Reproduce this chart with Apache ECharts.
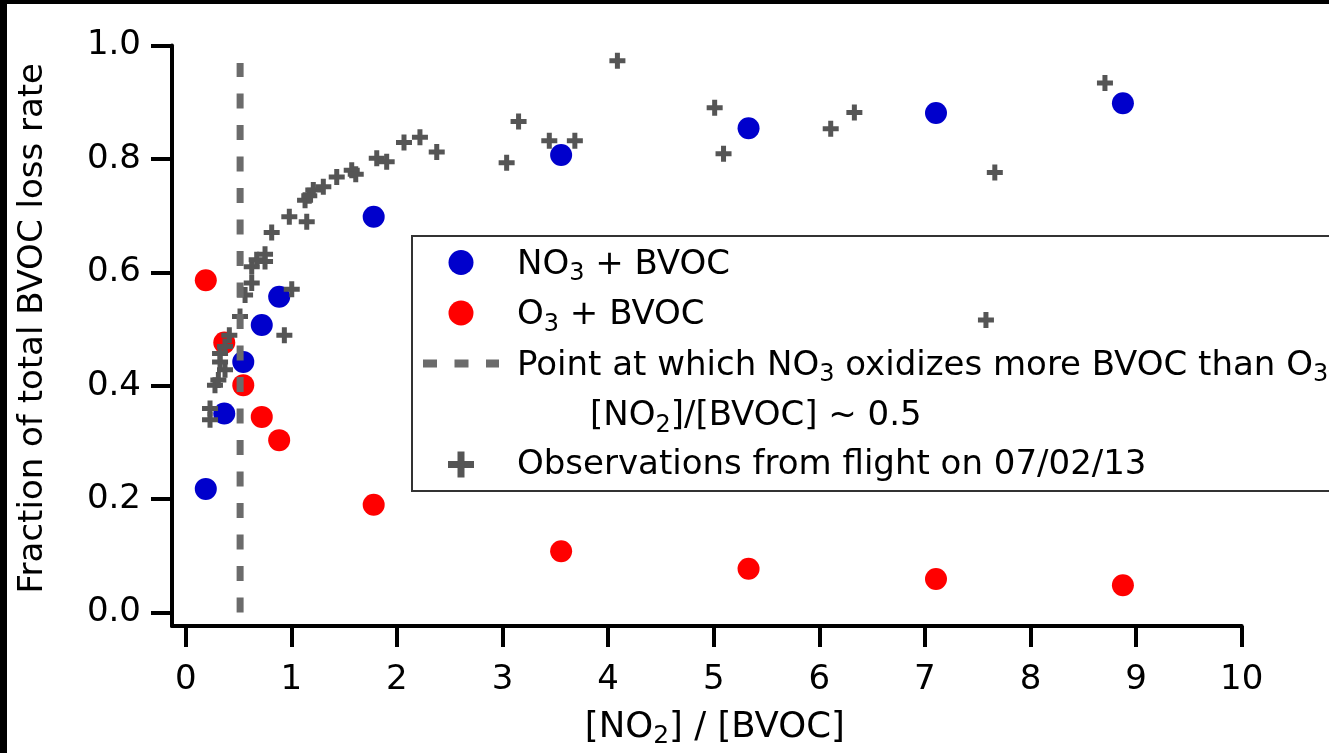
<!DOCTYPE html>
<html>
<head>
<meta charset="utf-8">
<title>Fraction of total BVOC loss rate</title>
<script src="https://cdn.jsdelivr.net/npm/echarts@6.0.0/dist/echarts.min.js"></script>
<style>
  html, body { margin: 0; padding: 0; background: #fff; }
  #chart { width: 1329px; height: 753px; }
</style>
</head>
<body>
<div id="chart"></div>
<script>
// [NO2]/[BVOC] ratios of the model runs (shared by both oxidant series)
var ratio = [0.19, 0.365, 0.545, 0.72, 0.885, 1.78, 3.555, 5.33, 7.105, 8.875];
var no3Frac = [0.218, 0.351, 0.442, 0.507, 0.557, 0.698, 0.807, 0.854, 0.881, 0.898];
var o3Frac = [0.586, 0.476, 0.401, 0.345, 0.304, 0.190, 0.108, 0.077, 0.059, 0.048];

// observations from the 07/02/13 flight
var obsX = [0.23, 0.23, 0.277, 0.309, 0.372, 0.325, 0.325, 0.372, 0.413, 0.514,
  0.562, 0.625, 0.625, 0.672, 0.751, 0.751, 0.814, 0.934, 1.004, 0.981,
  1.146, 1.13, 1.17, 1.208, 1.303, 1.43, 1.572, 1.61, 1.809, 1.903,
  2.067, 2.218, 2.377, 3.039, 3.152, 3.443, 3.685, 4.088, 5.009, 5.093,
  6.108, 6.332, 7.578, 7.662, 8.705];
var obsY = [0.340, 0.360, 0.401, 0.410, 0.428, 0.442, 0.457, 0.469, 0.489, 0.522,
  0.560, 0.581, 0.610, 0.622, 0.619, 0.632, 0.670, 0.489, 0.570, 0.698,
  0.689, 0.727, 0.735, 0.745, 0.751, 0.768, 0.780, 0.773, 0.801, 0.795,
  0.829, 0.838, 0.812, 0.793, 0.866, 0.832, 0.832, 0.973, 0.890, 0.809,
  0.853, 0.882, 0.516, 0.776, 0.934];

// crossover point, drawn as a vertical dashed line
var crossX = [0.515, 0.515];
var crossY = [0, 0.969];

var xTicks = [0, 1, 2, 3, 4, 5, 6, 7, 8, 9, 10];
var yTicks = [0, 0.2, 0.4, 0.6, 0.8, 1.0];

var FONT = "DejaVu Sans";
var FS = 34;
var BLUE = "#0000cc";
var RED = "#ff0000";
var DASH = "#6b6b6b";
var PLUS = "#555555";
var PLUS_PATH = "path://M5.5,0H10.5V5.5H16V10.5H10.5V16H5.5V10.5H0V5.5H5.5Z";

function pairs(xs, ys) {
  return xs.map(function (x, i) { return [x, ys[i]]; });
}

// subscripts: small digits pushed to the bottom of a tall line box
var subRich = {
  sub: { fontSize: 24, fontFamily: FONT, lineHeight: 16, verticalAlign: "bottom", color: "#000" }
};

function legendText(x, y, text) {
  return {
    type: "text",
    x: x,
    y: y,
    style: {
      text: text,
      fontSize: FS,
      fontFamily: FONT,
      lineHeight: 42,
      fill: "#000",
      verticalAlign: "middle",
      rich: subRich
    }
  };
}

var myChart = echarts.init(document.getElementById("chart"), null, { renderer: "canvas" });

var option = {
  backgroundColor: "#fff",
  animation: false,
  grid: {
    left: 172,
    right: 87.3,
    top: 45.5,
    bottom: 127,
    outerBoundsMode: "none"
  },
  xAxis: {
    type: "value",
    min: -0.13,
    max: 10,
    splitLine: { show: false },
    axisLine: { show: true, onZero: false, lineStyle: { color: "#000", width: 4 } },
    axisTick: { show: true, length: 21, customValues: xTicks, lineStyle: { color: "#000", width: 4 } },
    axisLabel: { customValues: xTicks, margin: 37, color: "#000", fontSize: FS, fontFamily: FONT },
    name: "[NO{sub|2}] / [BVOC]",
    nameLocation: "middle",
    nameGap: 80,
    nameTextStyle: {
      color: "#000", fontSize: 35.5, fontFamily: FONT, lineHeight: 43,
      padding: [0, 0, 0, 16],
      rich: {
        sub: { fontSize: 25, fontFamily: FONT, lineHeight: 16, verticalAlign: "bottom", color: "#000" }
      }
    }
  },
  yAxis: {
    type: "value",
    min: -0.0238,
    max: 1.0,
    splitLine: { show: false },
    axisLine: { show: true, onZero: false, lineStyle: { color: "#000", width: 4 } },
    axisTick: { show: true, length: 21, customValues: yTicks, lineStyle: { color: "#000", width: 4 } },
    axisLabel: {
      customValues: yTicks, margin: 31, color: "#000", fontSize: FS, fontFamily: FONT,
      formatter: function (v) { return v.toFixed(1); }
    },
    name: "Fraction of total BVOC loss rate",
    nameLocation: "middle",
    nameRotate: 90,
    nameGap: 121,
    nameTextStyle: {
      color: "#000", fontSize: FS, fontFamily: FONT, lineHeight: 36,
      padding: [0, 0, 0, 15]
    }
  },
  series: [
    {
      name: "NO3 + BVOC",
      type: "scatter",
      symbol: "circle",
      symbolSize: 22,
      itemStyle: { color: BLUE, opacity: 1 },
      data: pairs(ratio, no3Frac)
    },
    {
      name: "O3 + BVOC",
      type: "scatter",
      symbol: "circle",
      symbolSize: 22,
      itemStyle: { color: RED, opacity: 1 },
      data: pairs(ratio, o3Frac)
    },
    {
      name: "crossover",
      type: "line",
      symbol: "none",
      showSymbol: false,
      lineStyle: { color: DASH, width: 7, type: [15, 16.5], cap: "butt" },
      data: pairs(crossX, crossY)
    },
    {
      name: "Observations",
      type: "scatter",
      symbol: PLUS_PATH,
      symbolSize: 16,
      itemStyle: { color: PLUS, opacity: 1 },
      data: pairs(obsX, obsY)
    }
  ],
  graphic: [
    // black edges of the original scan
    { type: "rect", shape: { x: 0, y: 0, width: 1329, height: 4 }, style: { fill: "#000" } },
    { type: "rect", shape: { x: 0, y: 0, width: 7, height: 753 }, style: { fill: "#000" } },
    // legend box
    { type: "rect", shape: { x: 412, y: 236, width: 940, height: 255 }, style: { fill: "none", stroke: "#333", lineWidth: 2 } },
    { type: "circle", shape: { cx: 461, cy: 262.5, r: 12.5 }, style: { fill: BLUE } },
    { type: "circle", shape: { cx: 461, cy: 313, r: 12.5 }, style: { fill: RED } },
    { type: "line", shape: { x1: 423, y1: 363.5, x2: 499, y2: 363.5 }, style: { stroke: DASH, lineWidth: 8, lineDash: [14, 17.5] } },
    { type: "rect", shape: { x: 448, y: 461, width: 26, height: 7 }, style: { fill: PLUS } },
    { type: "rect", shape: { x: 457.5, y: 451.5, width: 7, height: 26 }, style: { fill: PLUS } },
    legendText(517, 265, "NO{sub|3} + BVOC"),
    legendText(517, 315.5, "O{sub|3} + BVOC"),
    legendText(517, 366, "Point at which NO{sub|3} oxidizes more BVOC than O{sub|3}"),
    legendText(590, 416.5, "[NO{sub|2}]/[BVOC] ~ 0.5"),
    legendText(517, 465, "Observations from flight on 07/02/13")
  ]
};

myChart.setOption(option);
window.addEventListener("resize", function () {
  myChart.resize();
});
</script>
</body>
</html>
